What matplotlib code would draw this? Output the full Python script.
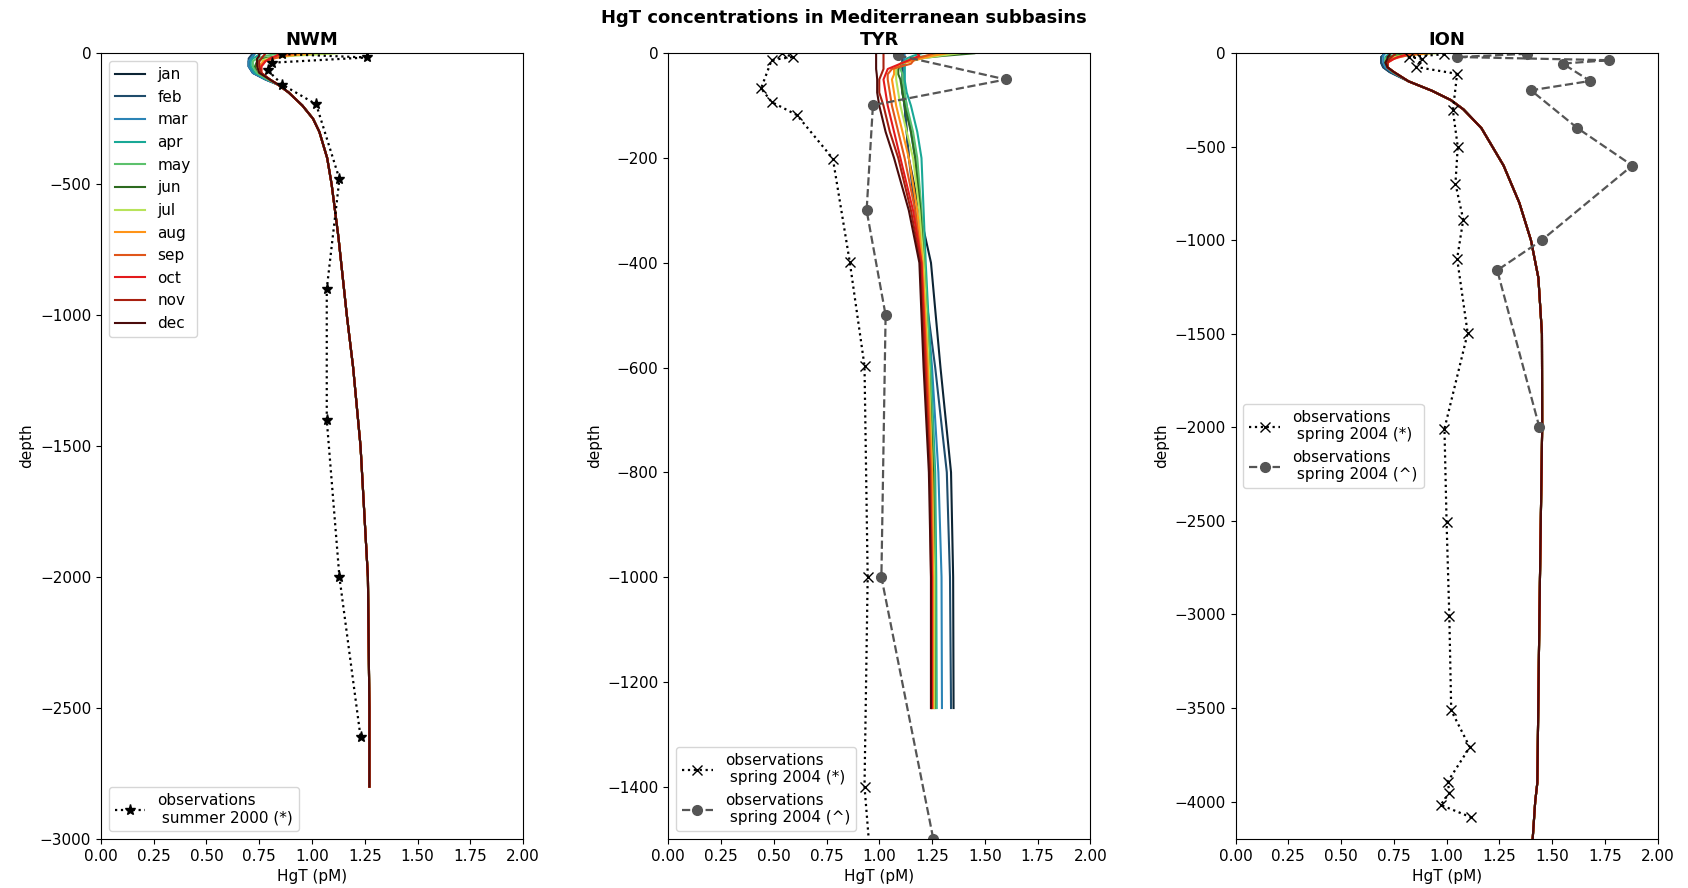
import numpy as np
import matplotlib
matplotlib.use("Agg")
import matplotlib.pyplot as plt

# ----- dati -----

months = ["jan", "feb", "mar", "apr", "may", "jun", "jul", "aug", "sep", "oct", "nov", "dec"]
month_colors = ["#0c2434", "#1f4c6b", "#2b84b6", "#19a896", "#5cc16c", "#2d6a1f",
                "#b8e35a", "#ff9418", "#e0561a", "#e31a1c", "#a82010", "#4a0b0b"]

# NWM: livelli superficiali per mese + profilo profondo comune
nwm_up_depth = [0, 10, 20, 30, 50, 75, 100]
nwm_up = [
    [0.73, 0.72, 0.71, 0.70, 0.70, 0.72, 0.78],
    [0.72, 0.71, 0.70, 0.70, 0.70, 0.72, 0.78],
    [0.73, 0.72, 0.71, 0.70, 0.70, 0.72, 0.78],
    [0.76, 0.74, 0.72, 0.71, 0.71, 0.73, 0.79],
    [0.85, 0.78, 0.74, 0.72, 0.72, 0.74, 0.79],
    [1.05, 0.85, 0.77, 0.74, 0.73, 0.75, 0.80],
    [1.12, 0.90, 0.79, 0.75, 0.74, 0.75, 0.80],
    [1.00, 0.88, 0.81, 0.77, 0.75, 0.76, 0.80],
    [0.92, 0.86, 0.82, 0.78, 0.76, 0.76, 0.80],
    [0.85, 0.83, 0.80, 0.78, 0.76, 0.76, 0.80],
    [0.78, 0.77, 0.76, 0.75, 0.75, 0.76, 0.80],
    [0.75, 0.75, 0.74, 0.74, 0.74, 0.75, 0.80],
]
nwm_deep_depth = [120, 150, 200, 250, 300, 400, 500, 700, 1000, 1200, 1500, 2000, 2500, 2800]
nwm_deep = [0.84, 0.89, 0.955, 1.005, 1.035, 1.072, 1.093, 1.125, 1.165, 1.195, 1.23, 1.265, 1.272, 1.272]

nwm_obs_depth = [3, 16, 36, 65, 120, 195, 480, 900, 1400, 2000, 2610]
nwm_obs = [0.86, 1.26, 0.81, 0.79, 0.86, 1.02, 1.13, 1.07, 1.07, 1.13, 1.23]

# TYR: profili completi per mese
tyr_depth = [0, 5, 10, 20, 30, 40, 50, 75, 100, 150, 200, 300, 400, 600, 800, 1000, 1250]
tyr = [
    [1.11, 1.11, 1.11, 1.11, 1.11, 1.11, 1.11, 1.11, 1.12, 1.13, 1.14, 1.19, 1.245, 1.29, 1.34, 1.35, 1.352],
    [1.11, 1.11, 1.11, 1.11, 1.11, 1.11, 1.11, 1.11, 1.12, 1.13, 1.14, 1.17, 1.20, 1.265, 1.32, 1.335, 1.34],
    [1.12, 1.12, 1.12, 1.12, 1.12, 1.12, 1.12, 1.12, 1.13, 1.15, 1.17, 1.19, 1.21, 1.25, 1.28, 1.295, 1.297],
    [1.20, 1.16, 1.13, 1.12, 1.12, 1.12, 1.12, 1.13, 1.15, 1.18, 1.20, 1.21, 1.22, 1.245, 1.265, 1.27, 1.272],
    [1.30, 1.22, 1.15, 1.10, 1.10, 1.11, 1.11, 1.12, 1.13, 1.16, 1.18, 1.20, 1.215, 1.24, 1.26, 1.265, 1.267],
    [1.45, 1.30, 1.18, 1.10, 1.09, 1.09, 1.10, 1.11, 1.12, 1.15, 1.17, 1.195, 1.21, 1.235, 1.255, 1.26, 1.262],
    [1.38, 1.28, 1.20, 1.10, 1.08, 1.08, 1.08, 1.09, 1.10, 1.13, 1.16, 1.19, 1.21, 1.235, 1.25, 1.26, 1.26],
    [1.32, 1.25, 1.20, 1.10, 1.07, 1.07, 1.06, 1.07, 1.08, 1.11, 1.14, 1.18, 1.205, 1.23, 1.25, 1.255, 1.255],
    [1.26, 1.22, 1.17, 1.15, 1.06, 1.04, 1.04, 1.05, 1.06, 1.09, 1.12, 1.17, 1.20, 1.225, 1.245, 1.25, 1.25],
    [1.18, 1.19, 1.16, 1.10, 1.04, 1.03, 1.02, 1.03, 1.04, 1.07, 1.10, 1.16, 1.20, 1.22, 1.24, 1.25, 1.25],
    [1.02, 1.02, 1.02, 1.02, 1.02, 1.01, 1.00, 1.00, 1.02, 1.05, 1.09, 1.15, 1.195, 1.215, 1.24, 1.245, 1.245],
    [0.985, 0.985, 0.985, 0.985, 0.985, 0.988, 0.99, 0.99, 1.00, 1.03, 1.07, 1.14, 1.19, 1.21, 1.235, 1.245, 1.245],
]

tyr_obs1_depth = [0, 7, 13, 67, 93, 118, 201, 398, 597, 1000, 1400, 1600]
tyr_obs1 = [0.54, 0.59, 0.49, 0.44, 0.49, 0.61, 0.78, 0.86, 0.93, 0.945, 0.93, 0.97]
tyr_obs2_depth = [4, 50, 99, 300, 500, 1000, 1500]
tyr_obs2 = [1.09, 1.60, 0.97, 0.94, 1.03, 1.01, 1.256]

# ION: livelli superficiali per mese + profilo profondo comune
ion_up_depth = [0, 10, 20, 30, 50, 75, 100]
ion_up = [
    [0.70, 0.70, 0.69, 0.69, 0.69, 0.70, 0.73],
    [0.70, 0.70, 0.69, 0.69, 0.69, 0.70, 0.73],
    [0.71, 0.70, 0.70, 0.70, 0.70, 0.71, 0.74],
    [0.74, 0.72, 0.71, 0.71, 0.71, 0.72, 0.745],
    [0.80, 0.75, 0.72, 0.71, 0.71, 0.72, 0.745],
    [0.90, 0.78, 0.73, 0.72, 0.71, 0.72, 0.75],
    [0.95, 0.80, 0.75, 0.73, 0.72, 0.72, 0.75],
    [0.92, 0.82, 0.77, 0.74, 0.72, 0.72, 0.75],
    [0.88, 0.82, 0.78, 0.75, 0.72, 0.72, 0.75],
    [0.82, 0.80, 0.77, 0.75, 0.72, 0.72, 0.75],
    [0.76, 0.75, 0.74, 0.73, 0.72, 0.72, 0.75],
    [0.73, 0.73, 0.72, 0.72, 0.71, 0.72, 0.75],
]
ion_deep_depth = [150, 200, 250, 300, 400, 600, 800, 1000, 1200, 1500, 2000, 3000, 3900, 4000, 4250]
ion_deep = [0.82, 0.93, 1.02, 1.08, 1.165, 1.27, 1.345, 1.40, 1.435, 1.452, 1.453, 1.44, 1.43, 1.42, 1.405]

ion_obs1_depth = [5, 20, 30, 73, 110, 305, 500, 697, 889, 1098, 1496, 2007, 2506, 3009, 3513, 3709, 3893, 3954, 4018, 4084]
ion_obs1 = [0.99, 0.82, 0.885, 0.855, 1.05, 1.03, 1.053, 1.042, 1.079, 1.05, 1.10,
            0.99, 1.0, 1.013, 1.022, 1.11, 1.006, 1.013, 0.972, 1.116]
ion_obs2_depth = [3, 20, 37, 55, 148, 198, 400, 600, 1000, 1160, 2000]
ion_obs2 = [1.38, 1.05, 1.77, 1.55, 1.68, 1.40, 1.62, 1.88, 1.45, 1.24, 1.44]


def main():
    plt.rcParams["font.size"] = 11
    fig, axes = plt.subplots(nrows=1, ncols=3, figsize=(16.88, 8.88), dpi=100)
    fig.subplots_adjust(left=0.0598, right=0.982, bottom=0.0552, top=0.940, wspace=0.344)
    fig.suptitle("HgT concentrations in Mediterranean subbasins", fontsize=13,
                 fontweight="bold", y=0.99)

    # --- NWM ---
    ax = axes[0]
    for i, m in enumerate(months):
        x = list(nwm_up[i]) + nwm_deep
        z = -np.array(nwm_up_depth + nwm_deep_depth)
        ax.plot(x, z, color=month_colors[i], label=m, lw=1.5)
    leg1 = ax.legend(loc="upper left", fontsize=11)
    ax.add_artist(leg1)
    obs, = ax.plot(nwm_obs, -np.array(nwm_obs_depth), ":", color="black", marker="*",
                   markersize=8, lw=1.6)
    ax.legend([obs], ["observations\n summer 2000 (*)"], loc="lower left", fontsize=11)
    ax.set_ylim(-3000, 0)
    ax.set_title("NWM", fontweight="bold", fontsize=13)

    # --- TYR ---
    ax = axes[1]
    for i, m in enumerate(months):
        ax.plot(tyr[i], -np.array(tyr_depth), color=month_colors[i], lw=1.5)
    o1, = ax.plot(tyr_obs1, -np.array(tyr_obs1_depth), ":", color="black", marker="x",
                  markersize=7, lw=1.6)
    o2, = ax.plot(tyr_obs2, -np.array(tyr_obs2_depth), "--", color="#555555", marker="o",
                  markersize=7, lw=1.6)
    ax.legend([o1, o2], ["observations\n spring 2004 (*)", "observations\n spring 2004 (^)"],
              loc="lower left", fontsize=11)
    ax.set_ylim(-1500, 0)
    ax.set_title("TYR", fontweight="bold", fontsize=13)

    # --- ION ---
    ax = axes[2]
    for i, m in enumerate(months):
        x = list(ion_up[i]) + ion_deep
        z = -np.array(ion_up_depth + ion_deep_depth)
        ax.plot(x, z, color=month_colors[i], lw=1.5)
    o1, = ax.plot(ion_obs1, -np.array(ion_obs1_depth), ":", color="black", marker="x",
                  markersize=7, lw=1.6)
    o2, = ax.plot(ion_obs2, -np.array(ion_obs2_depth), "--", color="#555555", marker="o",
                  markersize=7, lw=1.6)
    ax.legend([o1, o2], ["observations\n spring 2004 (*)", "observations\n spring 2004 (^)"],
              loc="center left", fontsize=11)
    ax.set_ylim(-4200, 0)
    ax.set_title("ION", fontweight="bold", fontsize=13)

    for ax in axes:
        ax.set_xlim(0, 2)
        ax.set_xticks(np.arange(0, 2.01, 0.25))
        ax.set_xlabel("HgT (pM)")
        ax.set_ylabel("depth")

    plt.savefig("out.png", dpi=100)


if __name__ == '__main__':
    main()
